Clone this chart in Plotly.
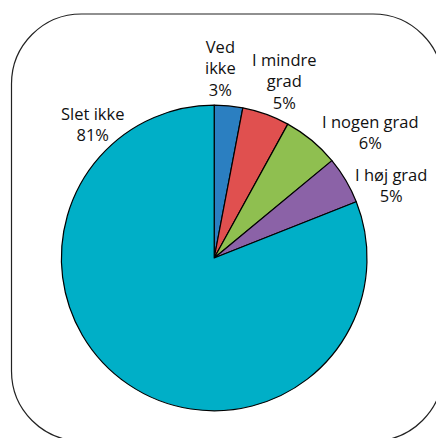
import plotly.graph_objects as go

# Data
categories = ["Ved ikke", "I mindre grad", "I nogen grad", "I høj grad", "Slet ikke"]
values = [3, 5, 6, 5, 81]
label_texts = ["Ved<br>ikke", "I mindre<br>grad", "I nogen grad", "I høj grad", "Slet ikke"]
colors = ["#2b7fc1", "#e0504f", "#8fbf50", "#8b62a7", "#00afc7"]

# page has an 8px body margin -> figure is drawn 8px in from the window edge
OFF = 8
W, H = 436, 430

def px(x):
    return (x - OFF) / W

def py(y):
    return 1 - (y - OFF) / H

# label block centres in window pixels (layout only)
label_px = [(220, 68), (284, 81), (370, 132), (391, 185), (92, 124)]

cx, cy, rad = 214.2, 258, 152.8
fig = go.Figure(go.Pie(
    labels=categories,
    values=values,
    sort=False,
    direction="clockwise",
    rotation=0,
    marker=dict(colors=colors, line=dict(color="#000000", width=1.2)),
    textinfo="none",
    hoverinfo="label+percent",
    showlegend=False,
    domain=dict(x=[px(cx - rad), px(cx + rad)], y=[py(cy + rad), py(cy - rad)]),
))

total = sum(values)
for txt, v, (lx, ly) in zip(label_texts, values, label_px):
    fig.add_annotation(
        x=px(lx), y=py(ly), xref="paper", yref="paper",
        text=f"{txt}<br>{round(100 * v / total)}%",
        showarrow=False, xanchor="center", yanchor="middle", align="center",
        font=dict(family="Open Sans", size=16.5, color="#111111"),
    )

# rounded frame
L, T, R, B, r = 11.5, 14, 443, 441, 70
k = 0.5523 * r
def P(x, y):
    return f"{px(x):.5f},{py(y):.5f}"
path = (
    f"M {P(L, T + r)} "
    f"C {P(L, T + r - k)} {P(L + r - k, T)} {P(L + r, T)} "
    f"L {P(R - r, T)} "
    f"C {P(R - r + k, T)} {P(R, T + r - k)} {P(R, T + r)} "
    f"L {P(R, B - r)} "
    f"C {P(R, B - r + k)} {P(R - r + k, B)} {P(R - r, B)} "
    f"L {P(L + r, B)} "
    f"C {P(L + r - k, B)} {P(L, B - r + k)} {P(L, B - r)} Z"
)
fig.add_shape(type="path", xref="paper", yref="paper", path=path,
              line=dict(color="#222222", width=1.2), layer="below")

fig.update_layout(
    width=W, height=H,
    margin=dict(l=0, r=0, t=0, b=0),
    paper_bgcolor="white", plot_bgcolor="white",
)

fig.write_html("out.html")
